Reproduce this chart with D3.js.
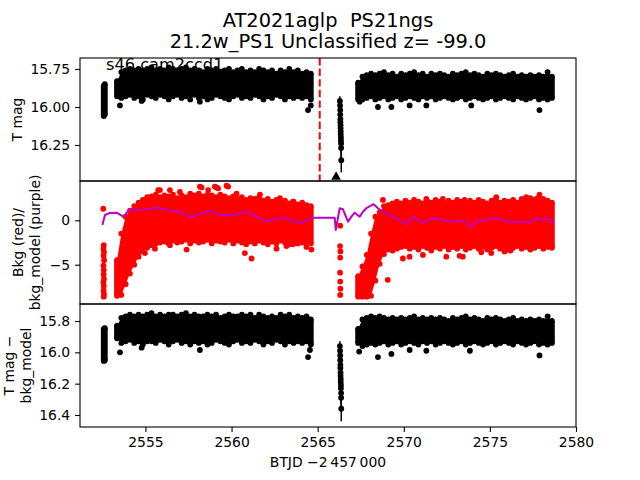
<!DOCTYPE html>
<html><head><meta charset="utf-8">
<script src="https://cdn.jsdelivr.net/npm/d3@7"></script>
<style>body{margin:0;background:#fff} text{font-family:"DejaVu Sans",sans-serif;fill:#000;white-space:pre}</style>
</head><body><svg id="c" width="640" height="480"></svg>
<script>
// ---------------- DATA ----------------
const titleLines = ["AT2021aglp  PS21ngs", "21.2w_PS1 Unclassified z= -99.0"];
const sectorLabel = "s46 cam2ccd1";
const xLabel = "BTJD \u22122\u2009457\u2009000";
const xTicks = [2555, 2560, 2565, 2570, 2575, 2580];
const topTicks = [15.75, 16.00, 16.25];
const topTickLabels = ["15.75", "16.00", "16.25"];
const midTicks = [0, -5];
const midTickLabels = ["0", "\u22125"];
const botTicks = [15.8, 16.0, 16.2, 16.4];
const botTickLabels = ["15.8", "16.0", "16.2", "16.4"];

// time bins (BTJD) for the two dense orbits
const binsB = [2553.35,2553.60,2553.85,2554.10,2554.35, 2554.60,2554.85,2555.10,2555.35,2555.60,
  2555.85,2556.10,2556.35,2556.60,2556.85, 2557.10,2557.35,2557.60,2557.85,2558.10,
  2558.35,2558.60,2558.85,2559.10,2559.35, 2559.60,2559.85,2560.10,2560.35,2560.60,
  2560.85,2561.10,2561.35,2561.60,2561.85, 2562.10,2562.35,2562.60,2562.85,2563.10,
  2563.35,2563.60,2563.85,2564.10,2564.35, 2564.60];
const binsD = [2567.35,2567.60,2567.85,2568.10,2568.35, 2568.60,2568.85,2569.10,2569.35,2569.60,
  2569.85,2570.10,2570.35,2570.60,2570.85, 2571.10,2571.35,2571.60,2571.85,2572.10,
  2572.35,2572.60,2572.85,2573.10,2573.35, 2573.60,2573.85,2574.10,2574.35,2574.60,
  2574.85,2575.10,2575.35,2575.60,2575.85, 2576.10,2576.35,2576.60,2576.85,2577.10,
  2577.35,2577.60,2577.85,2578.10,2578.35, 2578.60];
const binsA = [2552.58, 2552.64];

// T mag : bright (hi) and faint (lo) edge of the point cloud per bin
const tmagHiA = [15.86, 15.85];
const tmagLoA = [16.06, 16.05];
const tmagHiB = [15.83,15.77,15.76,15.75,15.76, 15.75,15.76,15.75,15.74,15.76,
  15.75,15.76,15.74,15.75,15.76, 15.75,15.74,15.76,15.75,15.76,
  15.77,15.75,15.76,15.75,15.77, 15.76,15.75,15.77,15.76,15.75,
  15.77,15.76,15.77,15.75,15.76, 15.77,15.76,15.78,15.76,15.77,
  15.75,15.77,15.76,15.78,15.77, 15.78];
const tmagLoB = [15.93,15.94,15.93,15.92,15.94, 15.93,15.95,15.92,15.93,15.94,
  15.92,15.93,15.95,15.93,15.92, 15.94,15.93,15.95,15.92,15.94,
  15.93,15.95,15.94,15.92,15.93, 15.94,15.95,15.93,15.92,15.94,
  15.93,15.94,15.92,15.93,15.95, 15.93,15.94,15.92,15.93,15.95,
  15.93,15.94,15.93,15.94,15.93, 15.95];
const tmagHiD = [15.84,15.80,15.79,15.78,15.79, 15.78,15.77,15.79,15.78,15.80,
  15.78,15.79,15.78,15.77,15.79, 15.78,15.80,15.78,15.79,15.78,
  15.79,15.80,15.78,15.79,15.78, 15.77,15.79,15.78,15.79,15.80,
  15.78,15.79,15.78,15.79,15.80, 15.79,15.78,15.80,15.79,15.80,
  15.79,15.80,15.79,15.80,15.77, 15.80];
const tmagLoD = [15.95,15.95,15.94,15.93,15.95, 15.94,15.93,15.95,15.94,15.93,
  15.95,15.94,15.93,15.94,15.95, 15.93,15.94,15.93,15.95,15.94,
  15.93,15.94,15.95,15.94,15.93, 15.95,15.94,15.93,15.94,15.95,
  15.94,15.93,15.95,15.94,15.93, 15.94,15.95,15.93,15.94,15.95,
  15.94,15.93,15.95,15.94,15.95, 15.94];
const tmagOutT = [2553.52,2554.78,2558.16,2564.44,2564.60,2567.44,2568.50,2569.28,2570.34,2571.31,2573.92,2577.88];
const tmagOutM = [15.99,15.96,15.965,16.02,15.99,15.965,16.00,16.00,15.99,15.99,15.99,16.02];

// the short dip segment near 2566.3 (points with error bars)
const dipT   = [2566.29,2566.30,2566.31,2566.31,2566.32,2566.32,2566.33,2566.33,2566.34,2566.34,2566.35,2566.35,2566.36,2566.36,2566.37];
const dipMag = [15.96,15.99,16.02,16.05,16.08,16.10,16.12,16.14,16.16,16.18,16.20,16.22,16.24,16.27,16.35];
const dipErr = [0.03,0.03,0.03,0.04,0.04,0.04,0.04,0.05,0.05,0.05,0.05,0.06,0.06,0.07,0.08];
const upLimT = [2566.07];
const upLimM = [16.46];
const markerT = [2565.12];   // red dashed line

// Bkg (red) cloud
const bkgAT = [2552.55,2552.58,2552.56,2552.59,2552.57,2552.60,2552.56,2552.58,2552.57,2552.59,2552.56,2552.58,2552.57,2552.59,2552.58];
const bkgAV = [1.3,-2.8,-3.2,-3.6,-4.0,-4.5,-5.1,-5.6,-6.1,-6.6,-7.0,-7.4,-7.9,-8.3,-8.6];
const bkgHiB = [-4.5,-1.5,0.4,1.1,1.6, 2.0,2.3,2.6,2.7,2.9,
  2.6,2.8,2.7,2.9,2.5, 2.8,2.6,3.0,2.8,3.0,
  2.7,2.9,2.8,2.6,2.9, 2.7,2.5,2.7,2.4,2.6,
  2.3,2.5,2.4,2.6,2.2, 2.4,2.1,2.3,2.0,2.2,
  1.9,2.1,1.8,2.0,1.7, 1.6];
const bkgLoB = [-8.5,-8.4,-7.2,-6.0,-5.0, -4.1,-3.5,-3.1,-2.8,-2.6,
  -2.5,-2.4,-2.6,-2.3,-2.5, -2.4,-2.2,-2.6,-2.3,-2.5,
  -2.4,-2.2,-2.6,-2.3,-2.4, -2.5,-2.2,-2.6,-2.3,-2.5,
  -2.7,-2.4,-2.6,-2.3,-2.5, -2.7,-2.4,-2.6,-2.3,-2.5,
  -2.7,-2.4,-2.6,-2.5,-2.7, -2.6];
const bkgCT = [2566.31,2566.30,2566.32,2566.31,2566.30,2566.31,2566.32,2566.31];
const bkgCV = [-0.6,-2.9,-3.5,-4.2,-5.9,-6.9,-7.7,-8.4];
const bkgHiD = [-6.3,-5.2,-3.9,-1.5,0.4, 0.9,1.6,1.7,1.9,2.1,
  1.9,2.2,2.0,2.3,2.1, 1.9,2.2,2.0,2.3,2.1,
  1.9,2.2,2.0,2.3,2.1, 1.9,2.2,2.0,2.3,2.1,
  1.9,2.2,2.4,2.0,2.2, 2.1,2.3,2.0,2.4,2.2,
  2.5,2.3,2.6,2.4,2.2, 2.0];
const bkgLoD = [-8.6,-8.6,-8.6,-8.5,-6.8, -4.9,-3.8,-3.3,-3.4,-3.2,
  -3.0,-2.9,-3.2,-3.0,-3.3, -2.9,-3.1,-3.4,-3.0,-3.2,
  -2.9,-3.3,-3.0,-3.2,-2.9, -3.3,-3.1,-2.9,-3.2,-3.0,
  -3.3,-3.1,-2.9,-3.2,-3.0, -3.3,-3.1,-2.9,-3.2,-3.0,
  -3.3,-3.1,-2.9,-3.2,-3.0, -3.1];
const bkgOutT = [2554.97,2555.55,2556.42,2557.39,2560.77,2561.16,2562.61,2563.19,2563.57,2564.35,2564.64,
  2555.74,2556.42,2557.00,2558.16,2558.64,2559.03,2559.22,2559.80,2560.29,2561.65,2562.81,2563.57,
  2555.84,2558.26,2559.13,2559.71,
  2568.79,2569.57,2571.31,2572.27,2573.53,2575.37,2577.11,2577.70,2577.88,
  2569.07,2569.95,2570.34,2571.11,2572.47,2573.24,2573.43,2574.50,2575.08,2575.85,2576.20];
const bkgOutV = [-3.7,-3.2,-2.8,-3.3,-3.7,-4.3,-3.2,-2.9,-2.7,-3.0,-3.3,
  3.4,3.4,3.2,3.8,3.4,3.8,3.6,3.8,3.0,2.9,2.5,2.1,
  3.4,3.7,3.7,3.9,
  2.3,1.9,2.4,2.4,2.3,2.6,2.6,2.4,2.9,
  -6.7,-4.3,-4.1,-3.9,-4.1,-4.0,-4.1,-3.6,-3.7,-3.5,-3.4];

// bkg_model (purple line)
const modelT = [2552.50,2552.65,2552.94,2553.33,2553.71,2554.10,2554.85,2555.65,2556.23,2557.00,
  2557.58,2558.16,2558.74,2559.32,2560.07,2560.87,2561.45,2562.03,2562.99,2563.38,
  2563.96,2564.73,2565.99,2566.05,2566.28,2566.47,2566.76,2566.96,2567.15,2567.44,
  2567.63,2567.83,2568.25,2568.50,2568.79,2569.18,2569.76,2570.15,2570.53,2571.11,
  2571.69,2572.27,2572.85,2573.43,2573.92,2574.21,2574.79,2575.37,2575.95,2576.53,
  2577.30,2577.69,2578.07,2578.46,2578.65];
const modelV = [-0.53,0.60,0.83,0.86,0.41,1.24,1.16,1.42,1.16,0.97,
  0.34,0.71,1.09,0.60,0.60,0.97,0.41,-0.15,0.34,0.04,
  -0.33,0.30,0.30,-1.09,1.36,1.24,-0.15,0.41,0.86,0.41,
  0.97,1.36,1.81,1.36,0.97,0.52,0.04,-0.45,0.41,-0.33,
  0.23,0.04,-0.15,-0.04,-0.72,-0.07,0.04,0.30,-0.15,-0.15,
  -0.26,0.23,0.04,0.23,-0.45];

// T mag - bkg_model
const corHiA = [15.85, 15.845];
const corLoA = [16.055, 16.05];
const corHiB = [15.83,15.78,15.77,15.76,15.77, 15.76,15.77,15.76,15.75,15.77,
  15.76,15.77,15.76,15.76,15.77, 15.76,15.75,15.77,15.76,15.77,
  15.77,15.76,15.77,15.76,15.78, 15.77,15.76,15.77,15.77,15.76,
  15.77,15.76,15.78,15.76,15.77, 15.78,15.77,15.78,15.76,15.77,
  15.76,15.78,15.77,15.78,15.77, 15.79];
const corLoB = [15.91,15.94,15.93,15.92,15.94, 15.93,15.95,15.93,15.93,15.94,
  15.92,15.93,15.95,15.93,15.92, 15.94,15.93,15.95,15.93,15.94,
  15.93,15.95,15.94,15.92,15.93, 15.94,15.95,15.93,15.92,15.94,
  15.93,15.94,15.92,15.93,15.95, 15.93,15.94,15.92,15.93,15.95,
  15.93,15.94,15.93,15.94,15.93, 15.95];
const corHiD = [15.85,15.79,15.78,15.77,15.78, 15.77,15.78,15.79,15.78,15.79,
  15.78,15.79,15.78,15.77,15.79, 15.78,15.79,15.78,15.79,15.78,
  15.79,15.80,15.78,15.79,15.78, 15.77,15.79,15.78,15.79,15.80,
  15.78,15.79,15.78,15.79,15.80, 15.79,15.78,15.80,15.79,15.80,
  15.79,15.80,15.79,15.80,15.77, 15.80];
const corLoD = [15.94,15.96,15.95,15.94,15.95, 15.94,15.93,15.95,15.94,15.93,
  15.95,15.94,15.93,15.94,15.95, 15.93,15.94,15.93,15.95,15.94,
  15.93,15.94,15.95,15.94,15.93, 15.95,15.94,15.93,15.94,15.95,
  15.94,15.93,15.95,15.94,15.93, 15.94,15.95,15.93,15.94,15.95,
  15.94,15.93,15.95,15.94,15.95, 15.94];
const corOutT = [2553.52,2554.78,2558.16,2564.44,2564.55,2567.41,2568.50,2569.28,2570.34,2571.31,2573.84,2577.88];
const corOutM = [16.00,15.97,15.985,16.03,15.985,15.995,16.03,16.01,15.985,15.99,15.99,16.02];
const corDipMag = [15.96,15.99,16.02,16.05,16.08,16.10,16.13,16.15,16.17,16.19,16.21,16.23,16.26,16.29,16.36];
const corDipErr = [0.03,0.03,0.03,0.04,0.04,0.04,0.04,0.05,0.05,0.05,0.05,0.06,0.06,0.07,0.08];

// ---------------- DRAWING ----------------
const svg = d3.select("#c");
const L = 80, R = 576;
const P = [{t:58,b:181},{t:181,b:304},{t:304,b:427}];
const x = d3.scaleLinear().domain([2551.2, 2580.0]).range([L, R]);
const yTop = d3.scaleLinear().domain([15.6776, 16.487]).range([P[0].t, P[0].b]);
const yMid = d3.scaleLinear().domain([-9.426, 4.4256]).range([P[1].b, P[1].t]);
const yBot = d3.scaleLinear().domain([15.6915, 16.4766]).range([P[2].t, P[2].b]);
const RED = "#ff0000", PURPLE = "#bf00bf", r = 2.9;

const defs = svg.append("defs");
P.forEach((p,i)=>defs.append("clipPath").attr("id","clip"+i).append("rect")
  .attr("x",L).attr("y",p.t).attr("width",R-L).attr("height",p.b-p.t));

// dense point cloud: filled band between the cloud edges + edge markers (bumpy outline)
function blob(g, ys, bins, hi, lo, color) {
  const n = Math.min(bins.length, hi.length, lo.length);
  const idx = d3.range(n);
  g.append("path").datum(idx)
    .attr("d", d3.area().x(i => x(bins[i])).y0(i => ys(hi[i])).y1(i => ys(lo[i])))
    .attr("fill", color);
  [hi, lo].forEach(arr => g.selectAll(null).data(idx).join("circle")
    .attr("cx", i => x(bins[i])).attr("cy", i => ys(arr[i])).attr("r", r).attr("fill", color));
  // end caps (first/last bin) as full columns of markers
  [0, n-1].forEach(i => g.append("rect").attr("x", x(bins[i]) - r).attr("width", 2*r)
    .attr("y", Math.min(ys(hi[i]), ys(lo[i]))).attr("height", Math.abs(ys(lo[i]) - ys(hi[i])))
    .attr("fill", color));
}
function dots(g, ys, ts, vs, color) {
  g.selectAll(null).data(d3.range(Math.min(ts.length, vs.length))).join("circle")
    .attr("cx", i => x(ts[i])).attr("cy", i => ys(vs[i])).attr("r", r).attr("fill", color);
}
function errbars(g, ys, ts, vs, es) {
  g.selectAll(null).data(d3.range(ts.length)).join("line")
    .attr("x1", i => x(ts[i])).attr("x2", i => x(ts[i]))
    .attr("y1", i => ys(vs[i] - es[i])).attr("y2", i => ys(vs[i] + es[i]))
    .attr("stroke", "#000").attr("stroke-width", 1.5);
}

// ---- top panel
const g0 = svg.append("g").attr("clip-path","url(#clip0)");
blob(g0, yTop, binsA, tmagHiA, tmagLoA, "#000");
blob(g0, yTop, binsB, tmagHiB, tmagLoB, "#000");
blob(g0, yTop, binsD, tmagHiD, tmagLoD, "#000");
dots(g0, yTop, tmagOutT, tmagOutM, "#000");
errbars(g0, yTop, dipT, dipMag, dipErr);
dots(g0, yTop, dipT, dipMag, "#000");
g0.selectAll(null).data(markerT).join("line")
  .attr("x1", d=>x(d)).attr("x2", d=>x(d)).attr("y1", P[0].t).attr("y2", P[0].b)
  .attr("stroke", RED).attr("stroke-width", 2).attr("stroke-dasharray", "7.4,3.2");
svg.append("g").selectAll(null).data(d3.range(upLimT.length)).join("path")
  .attr("d", d3.symbol().type(d3.symbolTriangle).size(40))
  .attr("transform", i => `translate(${x(upLimT[i])},${yTop(upLimM[i])})`).attr("fill","#000");

// ---- middle panel
const g1 = svg.append("g").attr("clip-path","url(#clip1)");
dots(g1, yMid, bkgAT, bkgAV, RED);
blob(g1, yMid, binsB, bkgHiB, bkgLoB, RED);
dots(g1, yMid, bkgCT, bkgCV, RED);
blob(g1, yMid, binsD, bkgHiD, bkgLoD, RED);
dots(g1, yMid, bkgOutT, bkgOutV, RED);
g1.append("path").datum(d3.range(modelT.length))
  .attr("d", d3.line().x(i => x(modelT[i])).y(i => yMid(modelV[i])))
  .attr("fill","none").attr("stroke", PURPLE).attr("stroke-width", 2).attr("stroke-linejoin","round");

// ---- bottom panel
const g2 = svg.append("g").attr("clip-path","url(#clip2)");
blob(g2, yBot, binsA, corHiA, corLoA, "#000");
blob(g2, yBot, binsB, corHiB, corLoB, "#000");
blob(g2, yBot, binsD, corHiD, corLoD, "#000");
dots(g2, yBot, corOutT, corOutM, "#000");
errbars(g2, yBot, dipT, corDipMag, corDipErr);
dots(g2, yBot, dipT, corDipMag, "#000");

// ---- axes
const FS = "13.9px";
function yAxis(scale, vals, labels) {
  const a = svg.append("g").attr("transform", `translate(${L},0)`)
    .call(d3.axisLeft(scale).tickValues(vals).tickSize(4.9).tickPadding(4.9)
      .tickFormat((d,i) => labels[i]));
  a.select(".domain").remove();
  a.selectAll(".tick line").attr("stroke","#000").attr("stroke-width",1.1);
  a.selectAll(".tick text").attr("font-size",FS).attr("font-family","DejaVu Sans").attr("fill","#000");
}
yAxis(yTop, topTicks, topTickLabels);
yAxis(yMid, midTicks, midTickLabels);
yAxis(yBot, botTicks, botTickLabels);
const xa = svg.append("g").attr("transform", `translate(0,${P[2].b})`)
  .call(d3.axisBottom(x).tickValues(xTicks).tickSize(4.9).tickPadding(4.9).tickFormat(d3.format("d")));
xa.select(".domain").remove();
xa.selectAll(".tick line").attr("stroke","#000").attr("stroke-width",1.1);
xa.selectAll(".tick text").attr("font-size",FS).attr("font-family","DejaVu Sans").attr("fill","#000");

P.forEach(p => svg.append("rect").attr("x",L).attr("y",p.t).attr("width",R-L).attr("height",p.b-p.t)
  .attr("fill","none").attr("stroke","#000").attr("stroke-width",1.1));

// ---- texts
svg.append("text").attr("x",328).attr("y",27).attr("text-anchor","middle").attr("font-size","19.4px")
  .attr("xml:space","preserve").text(titleLines[0]);
svg.append("text").attr("x",328).attr("y",48).attr("text-anchor","middle").attr("font-size","19.4px").text(titleLines[1]);
svg.append("text").attr("x",106).attr("y",70).attr("font-size","16.2px").text(sectorLabel);
svg.append("text").attr("x",328).attr("y",467).attr("text-anchor","middle").attr("font-size",FS).text(xLabel);
function vlab(xp, yc, s) {
  svg.append("text").attr("transform",`translate(${xp},${yc}) rotate(-90)`)
    .attr("text-anchor","middle").attr("font-size",FS).text(s);
}
vlab(21.5, 119.5, "T mag");
vlab(23, 242.5, "Bkg (red)/");
vlab(40, 242.5, "bkg_model (purple)");
vlab(13.5, 365.5, "T mag \u2212");
vlab(30.5, 365.5, "bkg_model");
</script></body></html>
